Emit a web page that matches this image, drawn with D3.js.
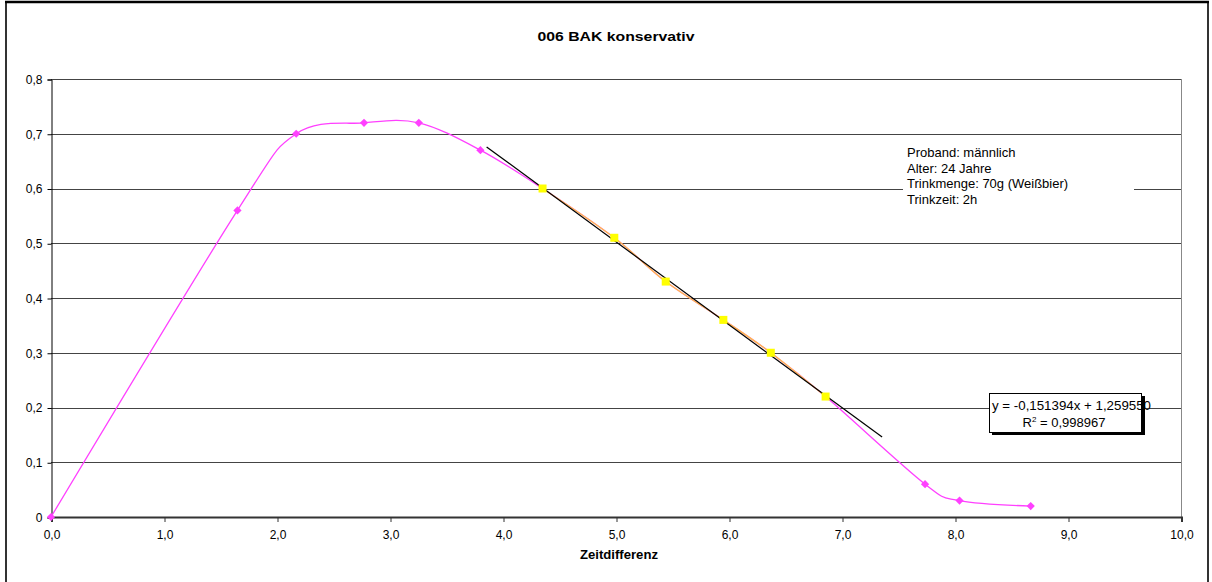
<!DOCTYPE html>
<html>
<head>
<meta charset="utf-8">
<script src="https://cdn.jsdelivr.net/npm/d3@7"></script>
<style>
html,body{margin:0;padding:0;background:#fff;}
svg{display:block;font-family:"Liberation Sans",Arial,sans-serif;}
</style>
</head>
<body>
<svg id="chart" width="1212" height="582"></svg>
<script>
// ---- data ----
const pinkX = [0, 1.65, 2.17, 2.77, 3.255, 3.80, 4.35, 4.985, 5.44, 5.95, 6.37, 6.855, 7.735, 8.04, 8.67];
const pinkY = [0, 0.56, 0.70, 0.72, 0.72, 0.67, 0.60, 0.51, 0.43, 0.36, 0.30, 0.22, 0.06, 0.03, 0.02];
const yellowX = [4.35, 4.985, 5.44, 5.95, 6.37, 6.855];
const yellowY = [0.60, 0.51, 0.43, 0.36, 0.30, 0.22];
const trendSlope = -0.151394, trendIntercept = 1.259550;
const trendRange = [3.855, 7.355];
const xTicks = [0,1,2,3,4,5,6,7,8,9,10];
const yTicks = [0,0.1,0.2,0.3,0.4,0.5,0.6,0.7,0.8];
const titleText = "006 BAK konservativ";
const xTitle = "Zeitdifferenz";
const infoLines = ["Proband: männlich", "Alter: 24 Jahre", "Trinkmenge: 70g (Weißbier)", "Trinkzeit: 2h"];
const eqLine1 = "y = -0,151394x + 1,259550";
const eqR2 = "0,998967";

const svg = d3.select("#chart");
const fmtComma = (v, d) => v.toFixed(d).replace(".", ",");

// frame
svg.append("rect").attr("x",6).attr("y",2).attr("width",1202).attr("height",640)
  .attr("fill","none").attr("stroke","#333").attr("stroke-width",2);
svg.append("line").attr("x1",5).attr("x2",1209).attr("y1",2).attr("y2",2).attr("stroke","#000").attr("stroke-width",2.5);

const x = d3.scaleLinear().domain([0,10]).range([51,1181]);
const y = d3.scaleLinear().domain([0,0.8]).range([517,79]);

// gridlines
svg.append("g").selectAll("line").data(yTicks.filter(d=>d>0)).join("line")
  .attr("x1",x(0)).attr("x2",x(10))
  .attr("y1",d=>Math.round(y(d))+0.5).attr("y2",d=>Math.round(y(d))+0.5)
  .attr("stroke","#444").attr("stroke-width",1);
// right border of plot
svg.append("line").attr("x1",x(10)+0.5).attr("x2",x(10)+0.5).attr("y1",y(0.8)).attr("y2",y(0))
  .attr("stroke","#888").attr("stroke-width",1);

// y axis
const yAxis = d3.axisLeft(y).tickValues(yTicks).tickSize(4).tickPadding(5)
  .tickFormat(d => d===0 ? "0" : fmtComma(d,1));
const gy = svg.append("g").attr("transform",`translate(${x(0)+0.5},0.5)`).call(yAxis);
gy.select(".domain").attr("stroke","#000");
gy.selectAll(".tick line").attr("stroke","#000");
gy.selectAll("text").attr("font-size",12).attr("fill","#000").attr("font-family","Liberation Sans, Arial, sans-serif");

// x axis
const xAxis = d3.axisBottom(x).tickValues(xTicks).tickSize(5).tickPadding(8)
  .tickFormat(d => fmtComma(d,1));
const gx = svg.append("g").attr("transform",`translate(0.5,${y(0)})`).call(xAxis);
gx.select(".domain").attr("stroke","#333").attr("stroke-width",2);
gx.selectAll(".tick line").attr("stroke","#333");
gx.selectAll("text").attr("font-size",12).attr("fill","#000").attr("font-family","Liberation Sans, Arial, sans-serif");

// title
svg.append("text").attr("x",616).attr("y",41).attr("text-anchor","middle")
  .attr("font-size",13.5).attr("font-weight","bold")
  .attr("textLength",157).attr("lengthAdjust","spacingAndGlyphs").text(titleText);
svg.append("text").attr("x",619).attr("y",559).attr("text-anchor","middle")
  .attr("font-size",12).attr("font-weight","bold")
  .attr("textLength",78).attr("lengthAdjust","spacingAndGlyphs").text(xTitle);

// pink series
const pink = pinkX.map((v,i)=>[v,pinkY[i]]);
const yellow = yellowX.map((v,i)=>[v,yellowY[i]]);
const line = d3.line().x(d=>x(d[0])).y(d=>y(d[1])).curve(d3.curveCardinal.tension(0));
svg.append("path").attr("d",line(pink)).attr("fill","none").attr("stroke","#ff40ff").attr("stroke-width",1.3);
svg.append("path").attr("d",line(yellow)).attr("fill","none").attr("stroke","#ffcc33").attr("stroke-width",1.3).attr("opacity",0.9);

// trend line
svg.append("line")
  .attr("x1",x(trendRange[0])).attr("y1",y(trendSlope*trendRange[0]+trendIntercept))
  .attr("x2",x(trendRange[1])).attr("y2",y(trendSlope*trendRange[1]+trendIntercept))
  .attr("stroke","#000").attr("stroke-width",1.2);

// markers
const sq = d3.symbol().type(d3.symbolSquare).size(34);
svg.append("g").selectAll("path").data(pink.filter(d=>!yellowX.includes(d[0]))).join("path")
  .attr("transform",d=>`translate(${x(d[0])},${y(d[1])}) rotate(45)`).attr("d",sq).attr("fill","#ff40ff");
svg.append("g").selectAll("rect").data(yellow).join("rect")
  .attr("x",d=>x(d[0])-4).attr("y",d=>y(d[1])-4).attr("width",8).attr("height",8).attr("fill","#ffff00");

// info box
svg.append("rect").attr("x",903).attr("y",140).attr("width",231).attr("height",70).attr("fill","#fff");
svg.append("g").selectAll("text").data(infoLines).join("text")
  .attr("x",907).attr("y",(d,i)=>157+i*15.6).attr("font-size",13).text(d=>d);

// equation box
svg.append("rect").attr("x",992).attr("y",396).attr("width",153).attr("height",39).attr("fill","#000");
svg.append("rect").attr("x",989.5).attr("y",393.5).attr("width",152).attr("height",39)
  .attr("fill","#fff").attr("stroke","#000").attr("stroke-width",1);
svg.append("text").attr("x",992).attr("y",410).attr("font-size",13)
  .attr("textLength",159).attr("lengthAdjust","spacingAndGlyphs").text(eqLine1);
const r2 = svg.append("text").attr("x",1064).attr("y",427).attr("font-size",13).attr("text-anchor","middle");
r2.append("tspan").text("R");
r2.append("tspan").attr("font-size",8).attr("dy",-5).text("2");
r2.append("tspan").attr("dy",5).text(" = " + eqR2);
</script>
</body>
</html>
